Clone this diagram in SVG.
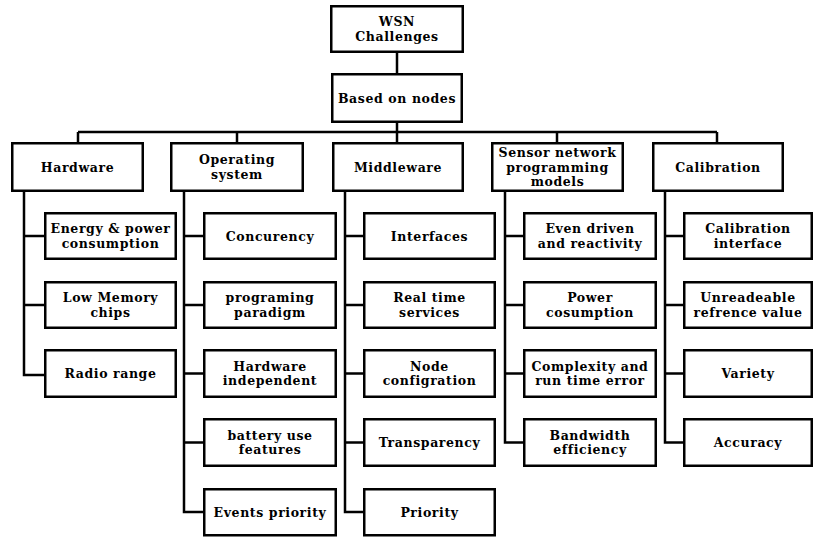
<svg xmlns="http://www.w3.org/2000/svg" width="813" height="537" viewBox="0 0 813 537">
  <style>
    .box { fill: #fff; stroke: #000; stroke-width: 2.5; }
    .wire { fill: none; stroke: #000; stroke-width: 2.5; stroke-linejoin: miter; }
    text { font-family: "DejaVu Serif", "Liberation Serif", serif; font-weight: bold; font-size: 12.5px; letter-spacing: 0.6px; fill: #000; text-anchor: middle; }
  </style>
  <rect width="813" height="537" fill="#fff"/>

  <!-- connectors -->
  <g id="connectors" class="wire">
    <path d="M397 53V73M397 123V132M78 132H717M78 132V142M237 132V142M397 132V142M557 132V142M717 132V142"/>
    <!-- Hardware -->
    <path d="M24 192V375H44M24 236H44M24 305H44"/>
    <!-- Operating system -->
    <path d="M184 192V512H203M184 236H203M184 305H203M184 373.5H203M184 442.5H203"/>
    <!-- Middleware -->
    <path d="M345 192V512H363M345 236H363M345 305H363M345 373.5H363M345 442.5H363"/>
    <!-- Sensor network programming models -->
    <path d="M505 192V442.5H523M505 236H523M505 305H523M505 373.5H523"/>
    <!-- Calibration -->
    <path d="M665 192V442.5H683M665 236H683M665 305H683M665 373.5H683"/>
  </g>

  <!-- root -->
  <g id="wsn-challenges"><rect class="box" x="331.25" y="6.25" width="131.5" height="45.5"/><text x="397" y="26.15">WSN</text><text x="397" y="40.95">Challenges</text></g>
  <g id="based-on-nodes"><rect class="box" x="332.25" y="74.25" width="129.5" height="47.5"/><text x="397" y="102.55">Based on nodes</text></g>

  <!-- categories -->
  <g id="hardware"><rect class="box" x="12.25" y="143.25" width="130.5" height="47.5"/><text x="77.5" y="171.55">Hardware</text></g>
  <g id="operating-system"><rect class="box" x="171.25" y="143.25" width="131.5" height="47.5"/><text x="237" y="164.15">Operating</text><text x="237" y="178.95">system</text></g>
  <g id="middleware"><rect class="box" x="333.25" y="143.25" width="129.5" height="47.5"/><text x="398" y="171.55">Middleware</text></g>
  <g id="sensor-network"><rect class="box" x="492.25" y="143.25" width="130.5" height="47.5"/><text x="557.5" y="156.75">Sensor network</text><text x="557.5" y="171.55">programming</text><text x="557.5" y="186.35">models</text></g>
  <g id="calibration"><rect class="box" x="653.25" y="143.25" width="129.5" height="47.5"/><text x="718" y="171.55">Calibration</text></g>

  <!-- Hardware items -->
  <g id="hw-energy"><rect class="box" x="45.25" y="213.25" width="130.5" height="45.5"/><text x="110.5" y="233.15">Energy &amp; power</text><text x="110.5" y="247.95">consumption</text></g>
  <g id="hw-memory"><rect class="box" x="45.25" y="282.25" width="130.5" height="45.5"/><text x="110.5" y="302.15">Low Memory</text><text x="110.5" y="316.95">chips</text></g>
  <g id="hw-radio"><rect class="box" x="45.25" y="350.25" width="130.5" height="46.5"/><text x="110.5" y="378.05">Radio range</text></g>

  <!-- Operating system items -->
  <g id="os-concurency"><rect class="box" x="204.25" y="213.25" width="131.5" height="45.5"/><text x="270" y="240.55">Concurency</text></g>
  <g id="os-paradigm"><rect class="box" x="204.25" y="282.25" width="131.5" height="45.5"/><text x="270" y="302.15">programing</text><text x="270" y="316.95">paradigm</text></g>
  <g id="os-hardware"><rect class="box" x="204.25" y="350.25" width="131.5" height="46.5"/><text x="270" y="370.65">Hardware</text><text x="270" y="385.45">independent</text></g>
  <g id="os-battery"><rect class="box" x="204.25" y="419.25" width="131.5" height="46.5"/><text x="270" y="439.65">battery use</text><text x="270" y="454.45">features</text></g>
  <g id="os-events"><rect class="box" x="204.25" y="489.25" width="131.5" height="46"/><text x="270" y="516.55">Events priority</text></g>

  <!-- Middleware items -->
  <g id="mw-interfaces"><rect class="box" x="364.25" y="213.25" width="130.5" height="45.5"/><text x="429.5" y="240.55">Interfaces</text></g>
  <g id="mw-realtime"><rect class="box" x="364.25" y="282.25" width="130.5" height="45.5"/><text x="429.5" y="302.15">Real time</text><text x="429.5" y="316.95">services</text></g>
  <g id="mw-node"><rect class="box" x="364.25" y="350.25" width="130.5" height="46.5"/><text x="429.5" y="370.65">Node</text><text x="429.5" y="385.45">configration</text></g>
  <g id="mw-transparency"><rect class="box" x="364.25" y="419.25" width="130.5" height="46.5"/><text x="429.5" y="447.05">Transparency</text></g>
  <g id="mw-priority"><rect class="box" x="364.25" y="489.25" width="130.5" height="46"/><text x="429.5" y="516.55">Priority</text></g>

  <!-- Sensor network programming model items -->
  <g id="sn-event"><rect class="box" x="524.25" y="213.25" width="131.5" height="45.5"/><text x="590" y="233.15">Even driven</text><text x="590" y="247.95">and reactivity</text></g>
  <g id="sn-power"><rect class="box" x="524.25" y="282.25" width="131.5" height="45.5"/><text x="590" y="302.15">Power</text><text x="590" y="316.95">cosumption</text></g>
  <g id="sn-complexity"><rect class="box" x="524.25" y="350.25" width="131.5" height="46.5"/><text x="590" y="370.65">Complexity and</text><text x="590" y="385.45">run time error</text></g>
  <g id="sn-bandwidth"><rect class="box" x="524.25" y="419.25" width="131.5" height="46.5"/><text x="590" y="439.65">Bandwidth</text><text x="590" y="454.45">efficiency</text></g>

  <!-- Calibration items -->
  <g id="cal-interface"><rect class="box" x="684.25" y="213.25" width="127.5" height="45.5"/><text x="748" y="233.15">Calibration</text><text x="748" y="247.95">interface</text></g>
  <g id="cal-reference"><rect class="box" x="684.25" y="282.25" width="127.5" height="45.5"/><text x="748" y="302.15">Unreadeable</text><text x="748" y="316.95">refrence value</text></g>
  <g id="cal-variety"><rect class="box" x="684.25" y="350.25" width="127.5" height="46.5"/><text x="748" y="378.05">Variety</text></g>
  <g id="cal-accuracy"><rect class="box" x="684.25" y="419.25" width="127.5" height="46.5"/><text x="748" y="447.05">Accuracy</text></g>
</svg>
